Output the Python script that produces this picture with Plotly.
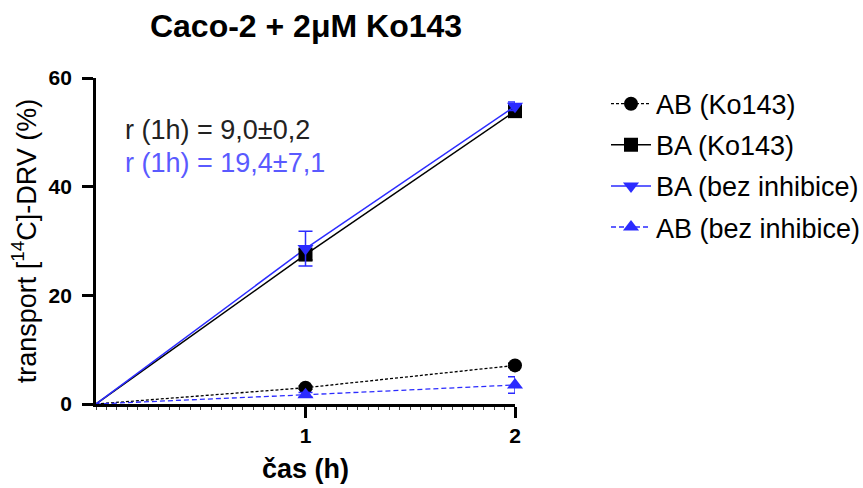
import plotly.graph_objects as go

time_h = [0, 1, 2]
ab_ko143 = [0, 3.0, 7.1]
ab_ko143_err = [0, 0.3, 0.4]
ba_ko143 = [0, 27.5, 53.9]
ba_ko143_err = [0, 1.0, 0.8]
ba_bez = [0, 28.6, 54.8]
ba_bez_err = [0, 3.2, 0.8]
ab_bez = [0, 1.7, 3.5]
ab_bez_err = [0, 0.4, 1.5]

series = [
    dict(name="AB (Ko143)", y=ab_ko143, e=ab_ko143_err, color="#000000", dash="3px,2px",
         symbol="circle", size=14, width=1.3),
    dict(name="BA (Ko143)", y=ba_ko143, e=ba_ko143_err, color="#000000", dash="solid",
         symbol="square", size=14, width=1.5),
    dict(name="BA (bez inhibice)", y=ba_bez, e=ba_bez_err, color="#2b2bff", dash="solid",
         symbol="triangle-down", size=14, width=1.5),
    dict(name="AB (bez inhibice)", y=ab_bez, e=ab_bez_err, color="#2b2bff", dash="5px,3px",
         symbol="triangle-up", size=14, width=1.3),
]

FONT = "Liberation Sans, Arial, sans-serif"
fig = go.Figure()
for s in series:
    fig.add_trace(go.Scatter(
        x=time_h[:2], y=s["y"][:2], mode="lines",
        line=dict(color=s["color"], dash=s["dash"], width=s["width"]),
        showlegend=False, hoverinfo="skip", cliponaxis=False,
    ))
for s in series:
    fig.add_trace(go.Scatter(
        x=time_h[1:], y=s["y"][1:], mode="lines+markers", name=s["name"],
        legendgroup=s["name"],
        line=dict(color=s["color"], dash=s["dash"], width=s["width"]),
        marker=dict(color=s["color"], symbol=s["symbol"], size=s["size"]),
        error_y=dict(type="data", array=s["e"][1:], color=s["color"], thickness=1.5, width=7),
        cliponaxis=False,
    ))

fig.add_annotation(x=0.13, y=50.4, xref="x", yref="y", text="r (1h) = 9,0±0,2",
                   showarrow=False, xanchor="left", yanchor="middle",
                   font=dict(size=27, color="#222222", family=FONT))
fig.add_annotation(x=0.13, y=44.4, xref="x", yref="y", text="r (1h) = 19,4±7,1",
                   showarrow=False, xanchor="left", yanchor="middle",
                   font=dict(size=27, color="#5a5aff", family=FONT))

fig.update_layout(
    width=863, height=488,
    margin=dict(l=96, r=348, t=78, b=84, autoexpand=False),
    paper_bgcolor="white", plot_bgcolor="white",
    font=dict(family=FONT, color="black"),
    title=dict(text="<b>Caco-2 + 2μM Ko143</b>", x=306 / 863, xanchor="center",
               y=1 - 26 / 488, yanchor="middle", font=dict(size=32, family=FONT)),
    legend=dict(x=(606 - 96) / 419, y=0.995, xanchor="left", yanchor="top",
                font=dict(size=27, family=FONT), tracegroupgap=3, itemwidth=40,
                bgcolor="rgba(0,0,0,0)"),
    showlegend=True,
)
fig.update_xaxes(
    range=[0, 2], tickvals=[1, 2], ticktext=["1", "2"],
    showline=True, linecolor="black", linewidth=2.8, mirror=False,
    ticks="outside", ticklen=11, tickwidth=2.8, tickcolor="black",
    tickfont=dict(size=21, family=FONT, weight="bold"),
    showgrid=False, zeroline=False,
    minor=dict(dtick=0.05, ticks="outside", ticklen=3, tickwidth=1, tickcolor="#444444", showgrid=False),
    title=dict(text="<b>čas (h)</b>", font=dict(size=27, family=FONT), standoff=14),
)
fig.update_yaxes(
    range=[0, 60], tickvals=[0, 20, 40, 60],
    showline=True, linecolor="black", linewidth=2.8,
    ticks="outside", ticklen=11, tickwidth=2.8, tickcolor="black",
    tickfont=dict(size=21, family=FONT, weight="bold"),
    ticklabelstandoff=6,
    showgrid=False, zeroline=False,
    title=dict(text="transport [<sup>14</sup>C]-DRV (%)", font=dict(size=27, family=FONT), standoff=5),
)

fig.write_html("out.html")
